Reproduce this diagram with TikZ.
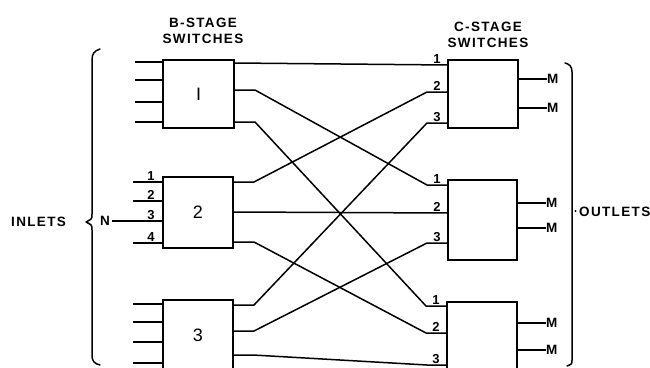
\documentclass[tikz,border=0pt]{standalone}
\usepackage{fontspec}
\setmainfont{Liberation Sans}
\newfontfamily\lbl[LetterSpace=10]{Liberation Sans}
\usetikzlibrary{calc}
\begin{document}
\begin{tikzpicture}[x=1pt,y=-1pt,
  wire/.style={line width=1.5pt,line join=round},
  swbox/.style={draw,line width=1.6pt,rectangle,inner sep=0pt,font=\fontsize{18}{18}\selectfont},
  captxt/.style={font=\lbl\bfseries\fontsize{13.5}{16}\selectfont,align=center,inner sep=0pt},
  num/.style={font=\bfseries\fontsize{13}{13}\selectfont,inner sep=0pt,anchor=south},
  mlab/.style={font=\bfseries\fontsize{13.5}{13.5}\selectfont,inner sep=0pt}]
\useasboundingbox (0,0) rectangle (650,367);
% boxes
\node[swbox,minimum width=71pt,minimum height=68pt] (b1) at (198.5,94) {I};
\node[swbox,minimum width=70pt,minimum height=71pt] (b2) at (198,212.5) {2};
\node[swbox,minimum width=70pt,minimum height=72pt] (b3) at (198,336) {};
\node[font=\fontsize{18}{18}\selectfont] (b3l) at (198,335) {3};
\node[swbox,minimum width=70pt,minimum height=68pt] (c1) at (483,94) {};
\node[swbox,minimum width=69pt,minimum height=80pt] (c2) at (482.5,220) {};
\node[swbox,minimum width=70pt,minimum height=72pt] (c3) at (482,338) {};
% captions
\node[captxt] (capb) at (203,31) {B-STAGE\\SWITCHES};
\node[captxt] (capc) at (488,35) {C-STAGE\\SWITCHES};
\node[captxt,anchor=west] (inl) at (11,222) {INLETS};
\node[captxt,anchor=west] (outl) at (579,212) {OUTLETS};
% B input ports
\foreach \y [count=\i] in {62,80,102,122}{\coordinate (b1i\i) at (163,\y);}
\foreach \y [count=\i] in {182,201,221,243}{\coordinate (b2i\i) at (163,\y);}
\foreach \y [count=\i] in {304,322,342,363}{\coordinate (b3i\i) at (163,\y);}
\foreach \i in {1,2,3,4}{
  \draw[wire] (b1i\i) -- ++(-28,0);
  \draw[wire] (b3i\i) -- ++(-30,0);}
\foreach \i in {1,2,4}{\draw[wire] (b2i\i) -- ++(-30,0);}
\node[mlab] (nn) at (105,221) {N};
\draw[wire] (nn.east) ++(2,0) coordinate (nstart) (nstart) -- (b2i3);
\foreach \i in {1,2,3,4}{\node[num] (b2n\i) at ($(b2i\i)+(-12,-1.5)$) {\i};}
% B output ports
\foreach \y [count=\i] in {63,90,122}{\coordinate (b1o\i) at (234,\y);}
\foreach \y [count=\i] in {182,212,242}{\coordinate (b2o\i) at (233,\y);}
\foreach \y [count=\i] in {305,331,355}{\coordinate (b3o\i) at (233,\y);}
% C input ports
\foreach \y [count=\i] in {65,92,123}{\coordinate (c1i\i) at (448,\y);}
\foreach \y [count=\i] in {185,213,243}{\coordinate (c2i\i) at (448,\y);}
\foreach \y [count=\i] in {306,333,365}{\coordinate (c3i\i) at (447,\y);}
\foreach \c in {1,2,3}{\foreach \i in {1,2,3}{
  \node[num] (c\c n\i) at ($(c\c i\i)+(-11,-1.5)$) {\i};}}
% straight connections
\draw[wire] (b1o1) -- (c1i1);
\draw[wire] (b2o2) -- (c2i2);
\draw[wire] (b3o3) -- ($(b3o3)+(20,0)$) -- ($(c3i3)+(-20,0)$) -- (c3i3);
% crossing connections
\foreach \b/\o/\c/\i in {1/2/2/1, 1/3/3/1, 2/1/1/2, 2/3/3/2, 3/1/1/3, 3/2/2/3}{
  \draw[wire] (b\b o\o) -- ($(b\b o\o)+(21,0)$) -- ($(c\c i\i)+(-21,0)$) -- (c\c i\i);}
% C outputs
\foreach \y [count=\i] in {79,108}{\coordinate (c1o\i) at (518,\y);}
\foreach \y [count=\i] in {203,228}{\coordinate (c2o\i) at (517,\y);}
\foreach \y [count=\i] in {323,350}{\coordinate (c3o\i) at (517,\y);}
\foreach \c in {1,2,3}{\foreach \i in {1,2}{
  \node[mlab,anchor=west] (m\c\i) at ($(c\c o\i)+(29,0)$) {M};
  \draw[wire] (c\c o\i) -- (m\c\i.west);}}
% braces
\draw[wire,line cap=round] (100,49) .. controls (94,51) and (92,54) .. (92,60) -- (92,214)
  .. controls (92,219) .. (86,222) .. controls (92,225) .. (92,230) -- (92,356)
  .. controls (92,361) and (95,364) .. (100,365);
\draw[wire,line cap=round] (565,63) .. controls (569,64) and (572,66) .. (572,72) -- (572,360)
  .. controls (572,364) .. (567,366);
\fill (575.5,211) circle (1.1pt);
\end{tikzpicture}
\end{document}
